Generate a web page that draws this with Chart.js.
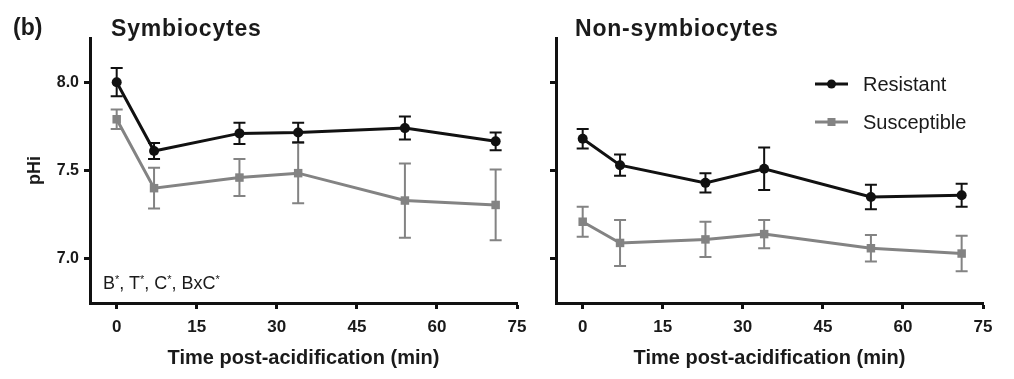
<!DOCTYPE html>
<html>
<head>
<meta charset="utf-8">
<script src="https://cdn.jsdelivr.net/npm/chart.js@4/dist/chart.umd.min.js"></script>
<style>
  html, body { margin: 0; padding: 0; background: #fff; }
  #wrap { position: relative; width: 1014px; height: 379px; overflow: hidden;
          font-family: "Liberation Sans", Arial, sans-serif; color: #1a1a1a; }
  #wrap canvas { position: absolute; top: 0; }
  .lbl { position: absolute; white-space: nowrap; line-height: 1; }
  .panel-title { font-size: 23px; font-weight: bold; letter-spacing: 0.8px; }
  .note sup { font-size: 11px; vertical-align: 6px; }
</style>
</head>
<body>
<div id="wrap">
  <canvas id="symChart" width="540" height="379" style="left:0;width:540px;height:379px"></canvas>
  <canvas id="nonChart" width="474" height="379" style="left:540px;width:474px;height:379px"></canvas>

  <div class="lbl" style="left:13px;top:16px;font-size:23px;font-weight:bold">(b)</div>
  <div class="lbl panel-title" style="left:111px;top:17px">Symbiocytes</div>
  <div class="lbl panel-title" style="left:575px;top:17px">Non-symbiocytes</div>
  <div class="lbl note" style="left:103px;top:274px;font-size:18px">B<sup>*</sup>, T<sup>*</sup>, C<sup>*</sup>, BxC<sup>*</sup></div>
</div>

<script>
// ── Data ─────────────────────────────────────
const times      = [0, 7, 23, 34, 54, 71];          // min post-acidification
const xTicks     = [0, 15, 30, 45, 60, 75];
const yTicks     = [7.0, 7.5, 8.0];

// Symbiocytes
const symResMean = [8.00, 7.61, 7.71, 7.715, 7.74, 7.665];
const symResErr  = [0.08, 0.045, 0.06, 0.055, 0.065, 0.05];
const symSusMean = [7.79, 7.40, 7.46, 7.485, 7.33, 7.305];
const symSusErr  = [0.055, 0.115, 0.105, 0.17, 0.21, 0.20];

// Non-symbiocytes
const nonResMean = [7.68, 7.53, 7.43, 7.51, 7.35, 7.36];
const nonResErr  = [0.055, 0.06, 0.055, 0.12, 0.07, 0.065];
const nonSusMean = [7.21, 7.09, 7.11, 7.14, 7.06, 7.03];
const nonSusErr  = [0.085, 0.13, 0.10, 0.08, 0.075, 0.10];

const FONT   = '"Liberation Sans", Arial, sans-serif';
const BLACK  = '#111111';
const GREY   = '#838383';
const TEXT   = '#1a1a1a';

/**
 * Draws vertical error bars (with caps) for every dataset that has an `errors` array.
 */
const errorBars = {
  id: 'errorBars',
  afterDatasetsDraw(chart) {
    const { ctx, scales: { x, y } } = chart;
    for (let d = chart.data.datasets.length - 1; d >= 0; d--) {
      const ds = chart.data.datasets[d];
      if (!ds.errors) continue;
      ctx.save();
      ctx.strokeStyle = ds.borderColor;
      ctx.lineWidth = 2;
      ds.data.forEach((p, i) => {
        const px  = x.getPixelForValue(p.x);
        const top = y.getPixelForValue(p.y + ds.errors[i]);
        const bot = y.getPixelForValue(p.y - ds.errors[i]);
        ctx.beginPath();
        ctx.moveTo(px, top);     ctx.lineTo(px, bot);
        ctx.moveTo(px - 6, top); ctx.lineTo(px + 6, top);
        ctx.moveTo(px - 6, bot); ctx.lineTo(px + 6, bot);
        ctx.stroke();
      });
      ctx.restore();
    }
  }
};

/**
 * Legend drawn in the upper right of the non-symbiocyte panel.
 */
const sideLegend = {
  id: 'sideLegend',
  afterDraw(chart) {
    const ctx = chart.ctx;
    const x0 = 275, x1 = 308, tx = 323;
    const rows = [[84, BLACK], [122, GREY]];
    ctx.save();
    chart.data.datasets.forEach((ds, i) => {
      const [yy, col] = rows[i];
      ctx.strokeStyle = col;
      ctx.fillStyle = col;
      ctx.lineWidth = 3;
      ctx.beginPath(); ctx.moveTo(x0, yy); ctx.lineTo(x1, yy); ctx.stroke();
      ctx.beginPath();
      if (ds.pointStyle === 'rect') ctx.rect((x0 + x1) / 2 - 4, yy - 4, 8, 8);
      else ctx.arc((x0 + x1) / 2, yy, 4.5, 0, Math.PI * 2);
      ctx.fill();
      ctx.fillStyle = TEXT;
      ctx.font = '20px ' + FONT;
      ctx.textBaseline = 'middle';
      ctx.fillText(ds.label, tx, yy + 1);
    });
    ctx.restore();
  }
};

function series(label, means, errs, color, style) {
  return {
    label,
    data: times.map((t, i) => ({ x: t, y: means[i] })),
    errors: errs,
    borderColor: color,
    backgroundColor: color,
    borderWidth: 3,
    pointStyle: style,
    pointRadius: style === 'rect' ? 6 : 5,
    pointBorderWidth: 0,
    tension: 0
  };
}

function makeScales(yWidth, showYLabels) {
  return {
    x: {
      type: 'linear', min: -5, max: 75,
      afterBuildTicks: s => { s.ticks = xTicks.map(v => ({ value: v })); },
      afterFit: s => { s.height = 76; },
      border: { display: true, color: BLACK, width: 3 },
      grid: { drawOnChartArea: false, drawTicks: true, tickLength: 6, tickColor: BLACK, tickWidth: 3 },
      ticks: { color: TEXT, font: { family: FONT, size: 17, weight: 'bold' }, padding: 8, maxRotation: 0 },
      title: { display: true, text: 'Time post-acidification (min)', color: TEXT,
               font: { family: FONT, size: 20, weight: 'bold' }, padding: { top: 0, bottom: 9 } }
    },
    y: {
      type: 'linear', min: 6.75, max: 8.25,
      afterBuildTicks: s => { s.ticks = yTicks.map(v => ({ value: v })); },
      afterFit: s => { s.width = yWidth; },
      border: { display: true, color: BLACK, width: 3 },
      grid: { drawOnChartArea: false, drawTicks: true, tickLength: 6, tickColor: BLACK, tickWidth: 3 },
      ticks: { color: TEXT, font: { family: FONT, size: 16, weight: 'bold' }, padding: 5,
               callback: v => showYLabels ? v.toFixed(1) : '' },
      title: { display: showYLabels, text: 'pHi', color: TEXT,
               font: { family: FONT, size: 18, weight: 'bold' }, padding: { top: 24 } }
    }
  };
}

function makeChart(id, datasets, yWidth, showYLabels, padRight, plugins) {
  return new Chart(document.getElementById(id), {
    type: 'line',
    data: { datasets },
    options: {
      responsive: false,
      animation: false,
      layout: { padding: { top: 38, left: 0, right: padRight, bottom: 0 } },
      plugins: { legend: { display: false }, tooltip: { enabled: false } },
      scales: makeScales(yWidth, showYLabels)
    },
    plugins
  });
}

makeChart('symChart', [
  series('Resistant',   symResMean, symResErr, BLACK, 'circle'),
  series('Susceptible', symSusMean, symSusErr, GREY,  'rect')
], 90, true, 23, [errorBars]);

makeChart('nonChart', [
  series('Resistant',   nonResMean, nonResErr, BLACK, 'circle'),
  series('Susceptible', nonSusMean, nonSusErr, GREY,  'rect')
], 16, false, 31, [errorBars, sideLegend]);
</script>
</body>
</html>
